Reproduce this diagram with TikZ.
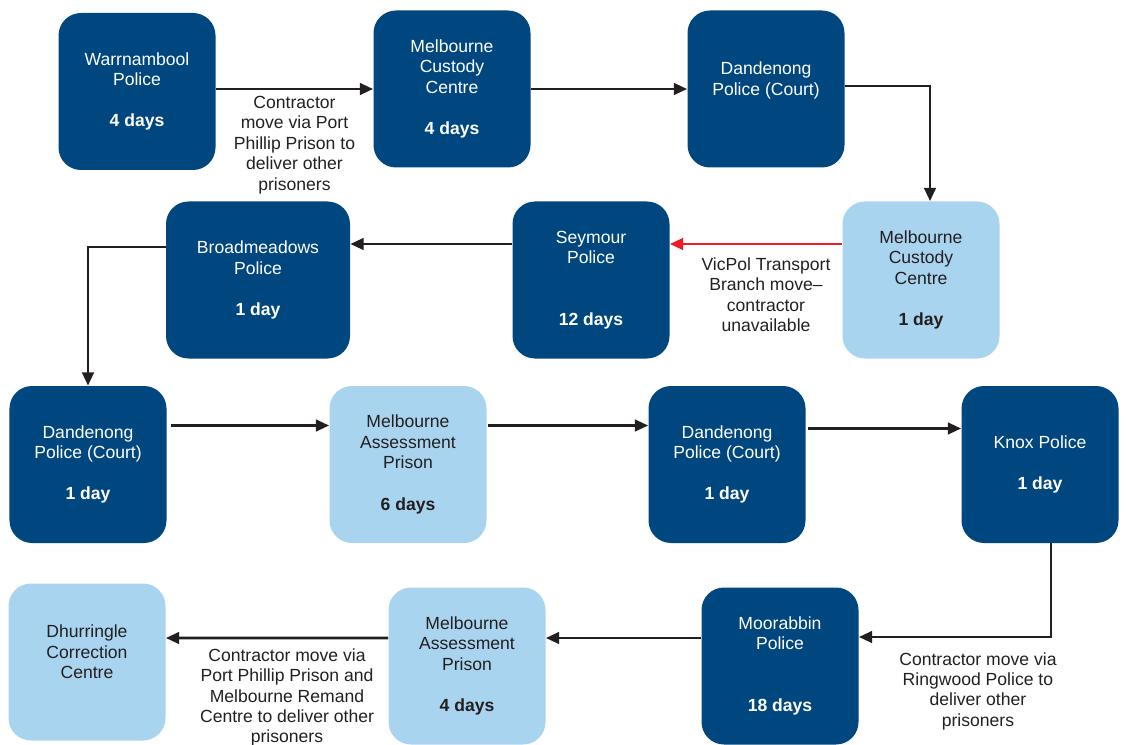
\documentclass[tikz,border=0pt]{standalone}
\usepackage{fontspec}
\setmainfont{Liberation Sans}
\usetikzlibrary{arrows.meta}
\definecolor{vicblue}{RGB}{0,70,127}
\definecolor{vicsky}{RGB}{169,212,239}
\definecolor{inkgrey}{RGB}{35,31,32}
\definecolor{alertred}{RGB}{237,28,36}

\begin{document}
\begin{tikzpicture}[
  stopbox/.style={rectangle, rounded corners=0.45cm, minimum width=3.14cm, minimum height=3.14cm, align=center, inner sep=2pt, font=\fontsize{10}{11.6}\selectfont},
  police/.style={stopbox, fill=vicblue, text=white},
  custody/.style={stopbox, fill=vicsky, text=inkgrey},
  movearrow/.style={-{Triangle[length=7.5pt,width=6.5pt]}, line width=1.6pt, draw=inkgrey},
  note/.style={font=\fontsize{10}{11.6}\selectfont, align=center, text=inkgrey, inner sep=0pt},
  node distance=6.3cm
]
\useasboundingbox (0,0) rectangle (22.54,-14.9);

% first row
\node[police] (warr) at (2.74,-1.83) {Warrnambool\\Police\\[12pt]\textbf{4 days}};
\node[police, right of=warr, node distance=6.3cm, yshift=0.05cm] (mcc1) {Melbourne\\Custody\\Centre\\[12pt]\textbf{4 days}};
\node[police, right of=mcc1, node distance=6.28cm] (dand1) {Dandenong\\Police (Court)\\\mbox{}};

% second row
\node[custody] (mcc2) at (18.42,-5.6) {Melbourne\\Custody\\Centre\\[12pt]\textbf{1 day}};
\node[police, left of=mcc2, node distance=6.6cm] (seym) {Seymour\\Police\\[23.5pt]\textbf{12 days}};
\node[police, left of=seym, node distance=6.66cm, minimum width=3.68cm] (broad) {Broadmeadows\\Police\\[12pt]\textbf{1 day}};

% third row
\node[police] (dand2) at (1.76,-9.29) {Dandenong\\Police (Court)\\[12pt]\textbf{1 day}};
\node[custody, right of=dand2, node distance=6.4cm] (map1) {Melbourne\\Assessment\\Prison\\[12pt]\textbf{6 days}};
\node[police, right of=map1, node distance=6.38cm] (dand3) {Dandenong\\Police (Court)\\[12pt]\textbf{1 day}};
\node[police, right of=dand3, node distance=6.26cm] (knox) {Knox Police\\[12pt]\textbf{1 day}};

% last row
\node[police] (moor) at (15.6,-13.32) {Moorabbin\\Police\\[23.5pt]\textbf{18 days}};
\node[custody, left of=moor, node distance=6.26cm] (map2) {Melbourne\\Assessment\\Prison\\[12pt]\textbf{4 days}};
\node[custody, left of=map2, node distance=7.6cm, yshift=0.08cm] (dhur) {Dhurringle\\Correction\\Centre\\\mbox{}};

\draw[movearrow] (warr.east |- mcc1.west) -- node[note, below=3.3pt] (noteA) {Contractor\\move via Port\\Phillip Prison to\\deliver other\\prisoners} (mcc1.west);
\draw[movearrow] (mcc1) -- (dand1);
\draw[movearrow] ([yshift=0.06cm]dand1.east) -| ([xshift=0.18cm]mcc2.north);
\draw[movearrow, draw=alertred] ([yshift=0.72cm]mcc2.west) -- node[note, below=7pt, xshift=0.2cm] (noteB) {VicPol Transport\\Branch move--\\contractor\\unavailable} ([yshift=0.72cm]seym.east);
\draw[movearrow] ([yshift=0.72cm]seym.west) -- ([yshift=0.72cm]broad.east);
\draw[movearrow] ([yshift=0.66cm]broad.west) -| (dand2.north);
\draw[movearrow] ([xshift=0.08cm,yshift=0.78cm]dand2.east) -- ([yshift=0.78cm]map1.west);
\draw[movearrow] ([xshift=0.02cm,yshift=0.78cm]map1.east) -- ([yshift=0.78cm]dand3.west);
\draw[movearrow] ([xshift=0.04cm,yshift=0.72cm]dand3.east) -- ([yshift=0.72cm]knox.west);
\draw[movearrow] ([xshift=0.22cm]knox.south) |- node[note, below=8pt, pos=0.75, xshift=0.46cm] (noteC) {Contractor move via\\Ringwood Police to\\deliver other\\prisoners} ([yshift=0.58cm]moor.east);
\draw[movearrow] ([yshift=0.56cm]moor.west) -- ([yshift=0.56cm]map2.east);
\draw[movearrow] ([yshift=0.56cm]map2.west) -- node[note, below=5.3pt, xshift=0.2cm] (noteD) {Contractor move via\\Port Phillip Prison and\\Melbourne Remand\\Centre to deliver other\\prisoners} ([yshift=0.48cm]dhur.east);
\end{tikzpicture}
\end{document}
